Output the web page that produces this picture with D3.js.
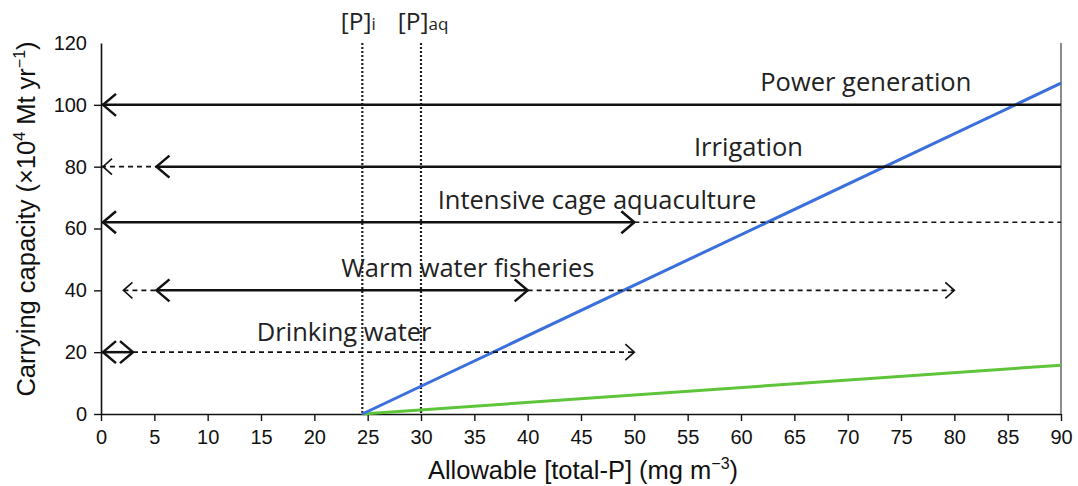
<!DOCTYPE html>
<html><head><meta charset="utf-8">
<script src="https://cdn.jsdelivr.net/npm/d3@7"></script>
<style>body{margin:0;background:#fff}</style>
</head><body><svg id="c" width="1078" height="486"></svg>
<script>
// ---- data ----
const xTicks = [0,5,10,15,20,25,30,35,40,45,50,55,60,65,70,75,80,85,90];
const yTicks = [0,20,40,60,80,100,120];
// horizontal use ranges
const segLabels = ["Power generation","Irrigation","Irrigation","Intensive cage aquaculture","Intensive cage aquaculture","Warm water fisheries","Warm water fisheries","Warm water fisheries","Drinking water","Drinking water"];
const segY      = [100, 80, 80, 62, 62, 40, 40, 40, 20, 20];
const segX0     = [0, 0, 5.2, 0, 50, 2.1, 5.2, 40, 0, 3];
const segX1     = [90, 5.2, 90, 50, 90, 5.2, 40, 80, 3, 50];
const segDashed = [false, true, false, false, true, true, false, true, false, true];
const segArrowStart = [true, true, true, true, false, true, true, false, true, false];
const segArrowEnd   = [false, false, false, true, false, false, true, true, true, true];
// category labels with anchor position in data units
const catNames = ["Power generation","Irrigation","Intensive cage aquaculture","Warm water fisheries","Drinking water"];
const catLabelX = [71.7, 60.7, 46.5, 34.4, 22.8];
const catLabelY = [104.6, 83.4, 66.2, 44.2, 23.5];
// thresholds
const threshNames = ["[P]", "[P]"];
const threshSubs = ["i", "aq"];
const threshX = [24.5, 30];
// capacity lines
const blueX = [24.5, 90], blueY = [0, 107];
const greenX = [24.5, 90], greenY = [0, 15.8];

// ---- layout ----
const svg = d3.select("#c");
const x = d3.scaleLinear().domain([0,90]).range([101,1061]);
const y = d3.scaleLinear().domain([0,120]).range([414,43]);
const tickFont = "'Liberation Sans', Arial, sans-serif";
const labFont = "'Open Sans', 'Noto Sans', sans-serif";

// axes
const gx = svg.append("g").attr("transform",`translate(0,${y(0)})`)
  .call(d3.axisBottom(x).tickValues(xTicks).tickSize(7).tickSizeOuter(0).tickPadding(9));
const gy = svg.append("g").attr("transform",`translate(${x(0)},0)`)
  .call(d3.axisLeft(y).tickValues(yTicks).tickSize(7).tickSizeOuter(0).tickPadding(7));
[gx,gy].forEach(g=>{
  g.select(".domain").attr("stroke","#111").attr("stroke-width",1.6);
  g.selectAll(".tick line").attr("stroke","#111").attr("stroke-width",1.4);
  g.selectAll(".tick text").attr("font-family",tickFont).attr("font-size",20).attr("fill","#111");
});
gy.select(".tick:last-of-type line").attr("x2",0);
// right frame line
svg.append("line").attr("x1",x(90)).attr("x2",x(90)).attr("y1",y(120)).attr("y2",y(0))
  .attr("stroke","#666").attr("stroke-width",1.5);

// thresholds
const threshLabelOffset = [-4, 2];
threshX.forEach((t,i)=>{
  svg.append("line").attr("x1",x(t)).attr("x2",x(t)).attr("y1",y(120)).attr("y2",y(0))
    .attr("stroke","#222").attr("stroke-width",2.2).attr("stroke-dasharray","2,2");
  const tx = svg.append("text").attr("x",x(t)+threshLabelOffset[i]).attr("y",30).attr("text-anchor","middle")
    .attr("font-family",labFont).attr("font-size",24.5).attr("fill","#222");
  tx.append("tspan").text(threshNames[i]);
  tx.append("tspan").attr("font-size",17).text(threshSubs[i]);
});

// capacity lines
const line = d3.line().x(d=>x(d[0])).y(d=>y(d[1]));
svg.append("path").attr("d",line(d3.zip(greenX,greenY))).attr("stroke","#5ec43a").attr("stroke-width",3).attr("fill","none");
svg.append("path").attr("d",line(d3.zip(blueX,blueY))).attr("stroke","#3a6fdc").attr("stroke-width",3).attr("fill","none");

// segments
function arrow(px,py,dir,dashed){
  const L = dashed?9:13, H = dashed?8:11;
  svg.append("path").attr("d",`M${px-dir*L},${py-H}L${px},${py}L${px-dir*L},${py+H}`)
    .attr("fill","none").attr("stroke","#111").attr("stroke-width",dashed?1.6:2.5)
    .attr("stroke-linejoin","miter");
}
segY.forEach((v,i)=>{
  const d = segDashed[i];
  svg.append("line").attr("x1",x(segX0[i])).attr("x2",x(segX1[i])).attr("y1",y(v)).attr("y2",y(v))
    .attr("stroke","#111").attr("stroke-width",d?1.6:2.5).attr("stroke-dasharray",d?"5,4":null);
  if(segArrowStart[i]) arrow(x(segX0[i])+ (segX0[i]===0?2:0), y(v), -1, d);
  if(segArrowEnd[i]) arrow(x(segX1[i]), y(v), 1, d);
});

// category labels
catNames.forEach((n,i)=>{
  svg.append("text").attr("x",x(catLabelX[i])).attr("y",y(catLabelY[i])).attr("text-anchor","middle")
    .attr("font-family",labFont).attr("font-size",25.5).attr("fill","#222").text(n);
});

// axis titles
const xt = svg.append("text").attr("x",583).attr("y",479).attr("text-anchor","middle")
  .attr("font-family",tickFont).attr("font-size",25.5).attr("fill","#111");
xt.append("tspan").text("Allowable [total-P] (mg m");
xt.append("tspan").attr("font-size",16).attr("dy",-10).text("−3");
xt.append("tspan").attr("dy",10).text(")");
const yt = svg.append("text").attr("transform",`translate(35,219) rotate(-90)`).attr("text-anchor","middle")
  .attr("font-family",tickFont).attr("font-size",25.5).attr("fill","#111");
yt.append("tspan").text("Carrying capacity (×10");
yt.append("tspan").attr("font-size",16).attr("dy",-10).text("4");
yt.append("tspan").attr("dy",10).text(" Mt yr");
yt.append("tspan").attr("font-size",16).attr("dy",-10).text("−1");
yt.append("tspan").attr("dy",10).text(")");
</script></body></html>
